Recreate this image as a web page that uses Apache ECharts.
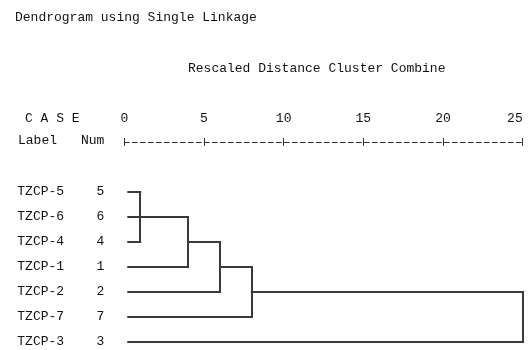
<!DOCTYPE html>
<html>
<head>
<meta charset="utf-8">
<script src="https://cdn.jsdelivr.net/npm/echarts@6/dist/echarts.min.js"></script>
<style>html,body{margin:0;padding:0;background:#fff;}#c{width:528px;height:350px;}</style>
</head>
<body>
<div id="c"></div>
<script>
// ---- data ----
const titleText = 'Dendrogram using Single Linkage';
const axisTitle = 'Rescaled Distance Cluster Combine';
const caseLabels = ['TZCP-5', 'TZCP-6', 'TZCP-4', 'TZCP-1', 'TZCP-2', 'TZCP-7', 'TZCP-3'];
const caseNums = ['5', '6', '4', '1', '2', '7', '3'];
const tickValues = [0, 5, 10, 15, 20, 25];
const leafStart = 0.25;
// each merge: rows (line rows of the clusters joined) and rescaled distance
const mergeRows = [[0, 1, 2], [1, 3], [2, 4], [3, 5], [4, 6]];
const mergeDist = [1, 4, 6, 8, 25];

// ---- build segments ----
const segs = [];
const xEnd = caseLabels.map(() => leafStart);
mergeRows.forEach((rows, i) => {
  const d = mergeDist[i];
  rows.forEach(r => segs.push({coords: [[xEnd[r], r], [d, r]]}));
  const lo = Math.min(...rows), hi = Math.max(...rows);
  segs.push({coords: [[d, lo], [d, hi]]});
  const nr = (lo + hi) / 2;
  xEnd[nr] = d;
});

const FONT = 'Liberation Mono';
const TXT = '#111';
const chart = echarts.init(document.getElementById('c'), null, {renderer: 'canvas'});
chart.setOption({
  backgroundColor: '#fff',
  animation: false,
  textStyle: {fontFamily: FONT},
  title: [
    {text: titleText, left: 10, top: 6, textStyle: {fontFamily: FONT, fontSize: 13, fontWeight: 'normal', color: TXT}},
    {text: axisTitle, left: 183, top: 57, textStyle: {fontFamily: FONT, fontSize: 13, fontWeight: 'normal', color: TXT}}
  ],
  graphic: [
    {type: 'text', left: 25, top: 112, style: {text: 'C A S E', font: '13px ' + FONT, fill: TXT}},
    {type: 'text', left: 18, top: 134, style: {text: 'Label', font: '13px ' + FONT, fill: TXT}},
    {type: 'text', left: 81, top: 134, style: {text: 'Num', font: '13px ' + FONT, fill: TXT}}
  ],
  grid: {left: 124.3, right: 5.3, top: 192, bottom: 8, containLabel: false, outerBoundsMode: 'none'},
  xAxis: [
    {
      type: 'value', position: 'top', offset: 50, min: 0, max: 25, interval: 5,
      splitLine: {show: false},
      axisLine: {show: true, onZero: false, lineStyle: {color: '#333', width: 1, type: [5, 3]}},
      axisTick: {show: true, length: 4, lineStyle: {color: '#333', width: 1}},
      axisLabel: {show: true, margin: 17, fontFamily: FONT, fontSize: 13, color: TXT,
        customValues: tickValues, alignMaxLabel: 'right', formatter: v => String(v)}
    },
    {
      type: 'value', position: 'top', offset: 50, min: 0, max: 25, interval: 5,
      splitLine: {show: false},
      axisLine: {show: false, onZero: false},
      axisTick: {show: true, inside: true, length: 4, lineStyle: {color: '#333', width: 1}},
      axisLabel: {show: false}
    }
  ],
  yAxis: [
    {type: 'value', inverse: true, min: 0, max: 6, show: false},
    {
      type: 'category', data: caseLabels, inverse: true, boundaryGap: false, position: 'left',
      axisLine: {show: false}, axisTick: {show: false}, splitLine: {show: false},
      axisLabel: {align: 'left', margin: 107, fontFamily: FONT, fontSize: 13, color: TXT, interval: 0}
    },
    {
      type: 'category', data: caseNums, inverse: true, boundaryGap: false, position: 'left',
      axisLine: {show: false}, axisTick: {show: false}, splitLine: {show: false},
      axisLabel: {align: 'center', margin: 24, fontFamily: FONT, fontSize: 13, color: TXT, interval: 0}
    }
  ],
  series: [{
    type: 'lines',
    coordinateSystem: 'cartesian2d',
    xAxisIndex: 0, yAxisIndex: 0,
    polyline: false,
    silent: true,
    lineStyle: {color: '#3a3a3a', width: 2, opacity: 1, cap: 'square'},
    data: segs
  }]
});
</script>
</body>
</html>
